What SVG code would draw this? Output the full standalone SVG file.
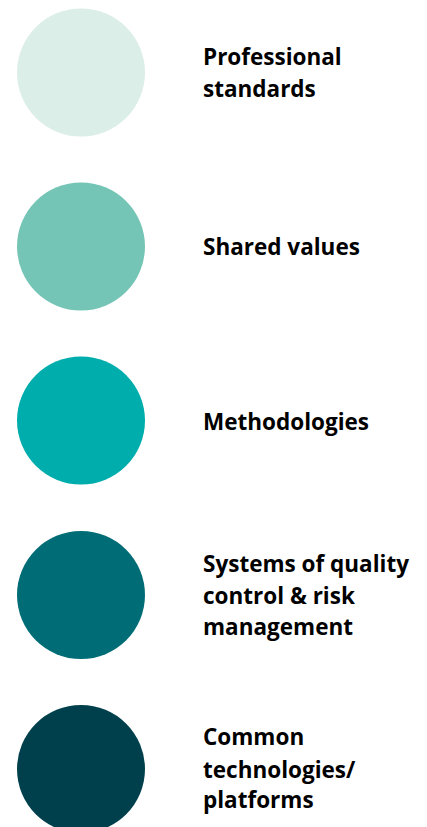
<svg xmlns="http://www.w3.org/2000/svg" width="427" height="827" viewBox="0 0 427 827">
<style>
text{font-family:"Open Sans","Noto Sans","DejaVu Sans",sans-serif;font-weight:700;font-size:22.5px;fill:#000}
</style>
<rect width="427" height="827" fill="#fff"/>
<g id="n1"><circle cx="81" cy="72.5" r="64" fill="#DCEEE8"/><text x="203" y="65">Professional</text><text x="203" y="97">standards</text></g>
<g id="n2"><circle cx="81" cy="246.5" r="64" fill="#74C5B6"/><text x="203" y="255">Shared values</text></g>
<g id="n3"><circle cx="81" cy="420.5" r="64" fill="#00ADAD"/><text x="203" y="430">Methodologies</text></g>
<g id="n4"><circle cx="81" cy="595" r="64" fill="#006C75"/><text x="203" y="571.5">Systems of quality</text><text x="203" y="603.5">control &amp; risk</text><text x="203" y="635">management</text></g>
<g id="n5"><circle cx="81" cy="769" r="64" fill="#00404C"/><text x="203" y="745">Common</text><text x="203" y="777.5">technologies/</text><text x="203" y="808">platforms</text></g>
<g id="connectors"/>
</svg>
